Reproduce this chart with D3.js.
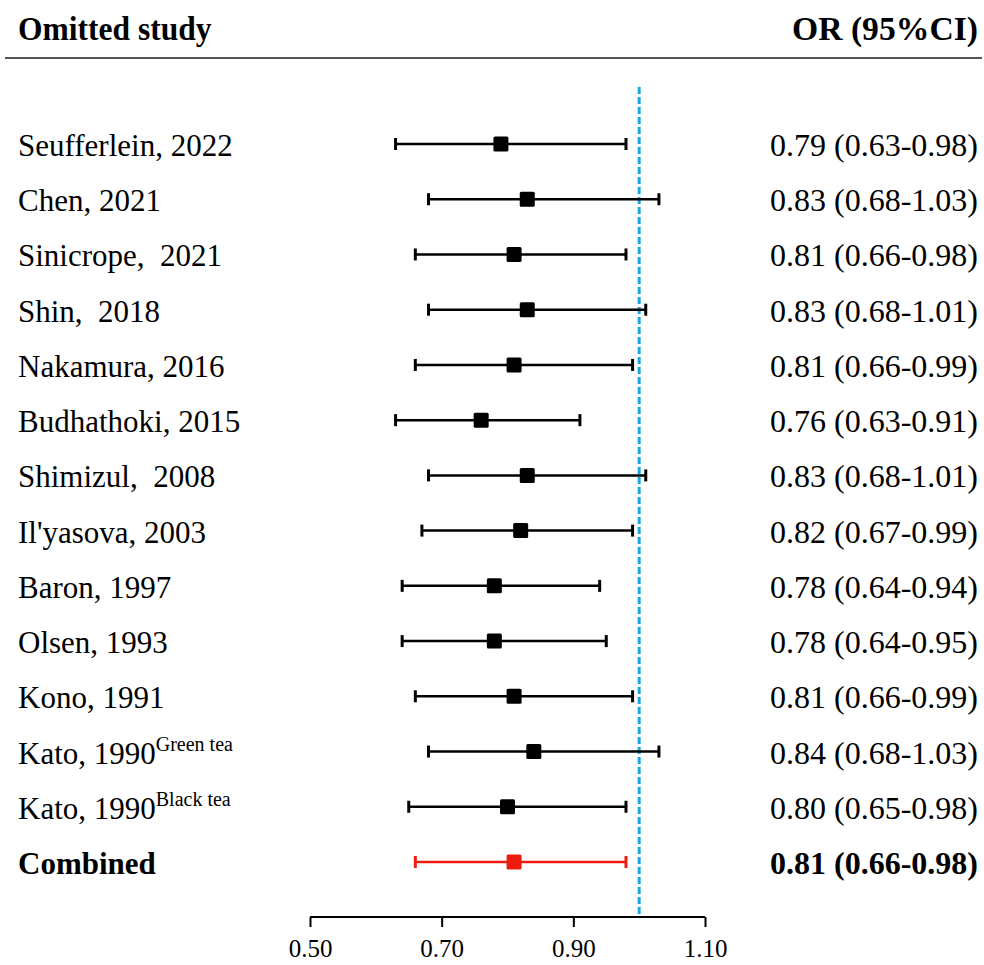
<!DOCTYPE html>
<html lang="en">
<head>
<meta charset="UTF-8">
<title>Sensitivity analysis forest plot</title>
<script src="https://d3js.org/d3.v7.min.js"></script>
<style>
    html, body { margin: 0; padding: 0; background: #fff; }
    svg { display: block; font-family: "Liberation Serif", "Times New Roman", serif; }
    text { white-space: pre; }
</style>
</head>
<body>
<div id="chart"></div>
<script>
    // omitted studies, top to bottom
    const studies = ["Seufferlein, 2022", "Chen, 2021", "Sinicrope,  2021", "Shin,  2018", "Nakamura, 2016",
        "Budhathoki, 2015", "Shimizul,  2008", "Il'yasova, 2003", "Baron, 1997", "Olsen, 1993",
        "Kono, 1991", "Kato, 1990", "Kato, 1990", "Combined"];
    const superscripts = ["", "", "", "", "", "", "", "", "", "", "", "Green tea", "Black tea", ""];
    const orValues = [0.79, 0.83, 0.81, 0.83, 0.81, 0.76, 0.83, 0.82, 0.78, 0.78, 0.81, 0.84, 0.80, 0.81];
    const lowerCI = [0.63, 0.68, 0.66, 0.68, 0.66, 0.63, 0.68, 0.67, 0.64, 0.64, 0.66, 0.68, 0.65, 0.66];
    const upperCI = [0.98, 1.03, 0.98, 1.01, 0.99, 0.91, 1.01, 0.99, 0.94, 0.95, 0.99, 1.03, 0.98, 0.98];
    const xTicks = [0.5, 0.7, 0.9, 1.1];

    const width = 984, height = 965;
    const fmt = d3.format(".2f");

    const rows = studies.map((name, i) => ({
        name, sup: superscripts[i], or: orValues[i], lo: lowerCI[i], hi: upperCI[i],
        combined: name === "Combined"
    }));

    const svg = d3.select("#chart").append("svg")
        .attr("width", width)
        .attr("height", height);

    const x = d3.scaleLinear().domain([0.5, 1.1]).range([310, 705]);
    const y = d3.scalePoint().domain(d3.range(rows.length)).range([144, 862]);

    // header (the original looks a bit tall)
    svg.append("text")
        .attr("transform", "translate(18,40) scale(0.985,1.08)")
        .attr("font-size", 32).attr("font-weight", "bold")
        .text("Omitted study");
    svg.append("text")
        .attr("transform", "translate(978,40) scale(1.02,1.05)")
        .attr("font-size", 33).attr("font-weight", "bold")
        .attr("text-anchor", "end")
        .text("OR (95%CI)");
    svg.append("line")
        .attr("x1", 5).attr("x2", 982).attr("y1", 58).attr("y2", 58)
        .attr("stroke", "#555").attr("stroke-width", 2);

    // axis
    const axisY = 917;
    const axis = svg.append("g")
        .attr("transform", `translate(0,${axisY})`)
        .call(d3.axisBottom(x).tickValues(xTicks).tickFormat(fmt).tickSize(10).tickPadding(12));
    axis.select(".domain").attr("stroke", "#000").attr("stroke-width", 2)
        .attr("d", `M${x(0.5)},0H${x(1.1)}`);
    axis.selectAll(".tick line").attr("stroke", "#000").attr("stroke-width", 2);
    axis.selectAll(".tick text")
        .attr("font-family", "Liberation Serif, Times New Roman, serif")
        .attr("font-size", 25).attr("fill", "#000");

    // null line
    svg.append("line")
        .attr("x1", x(1)).attr("x2", x(1))
        .attr("y1", 87).attr("y2", axisY)
        .attr("stroke", "#1aa6e0").attr("stroke-width", 3)
        .attr("stroke-dasharray", "7,3");

    const row = svg.append("g").selectAll("g")
        .data(rows)
        .join("g")
        .attr("transform", (d, i) => `translate(0,${y(i)})`);

    const color = d => d.combined ? "#ee1c10" : "#000";

    row.append("line")
        .attr("x1", d => x(d.lo)).attr("x2", d => x(d.hi))
        .attr("stroke", color).attr("stroke-width", 2.5);
    row.append("line")
        .attr("x1", d => x(d.lo)).attr("x2", d => x(d.lo))
        .attr("y1", -6).attr("y2", 6)
        .attr("stroke", color).attr("stroke-width", 3);
    row.append("line")
        .attr("x1", d => x(d.hi)).attr("x2", d => x(d.hi))
        .attr("y1", -6).attr("y2", 6)
        .attr("stroke", color).attr("stroke-width", 3);
    row.append("rect")
        .attr("x", d => x(d.or) - 7.5).attr("y", -7.5)
        .attr("width", 15).attr("height", 15)
        .attr("rx", 1.5)
        .attr("fill", color);

    // study labels
    const label = row.append("text")
        .attr("x", 18).attr("y", 12)
        .attr("font-size", 31)
        .attr("font-weight", d => d.combined ? "bold" : "normal")
        .attr("fill", "#000");
    label.append("tspan").text(d => d.name);
    label.filter(d => d.sup).append("tspan")
        .attr("dy", -13).attr("font-size", 20)
        .text(d => d.sup);

    // OR labels
    row.append("text")
        .attr("x", 978).attr("y", 12)
        .attr("text-anchor", "end")
        .attr("font-size", 32)
        .attr("font-weight", d => d.combined ? "bold" : "normal")
        .attr("fill", "#000")
        .text(d => `${fmt(d.or)} (${fmt(d.lo)}-${fmt(d.hi)})`);
</script>
</body>
</html>
